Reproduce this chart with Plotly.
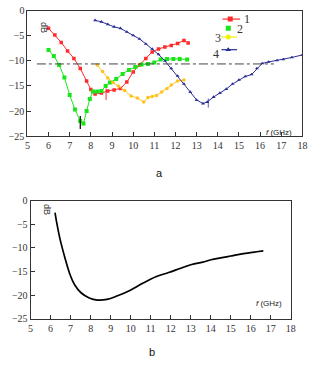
import plotly.graph_objects as go

W, H = 324, 381

# ---------------- data: panel a ----------------
s1_f = [6.0, 6.3, 6.6, 6.9, 7.2, 7.5, 7.8, 8.0, 8.2, 8.5, 8.8, 9.1, 9.4, 9.7, 10.0, 10.3, 10.6, 10.9, 11.2, 11.5, 11.8, 12.1, 12.4, 12.6]
s1_db = [-3.5, -4.8, -6.3, -8.0, -9.5, -11.5, -14.0, -15.7, -16.6, -16.4, -16.0, -15.8, -15.5, -14.2, -12.2, -10.8, -9.5, -8.2, -7.6, -7.2, -6.9, -6.5, -5.9, -6.4]

s2_f = [6.0, 6.25, 6.5, 6.75, 7.0, 7.25, 7.5, 7.65, 7.8, 7.95, 8.1, 8.3, 8.5, 8.7, 8.9, 9.2, 9.5, 9.8, 10.1, 10.4, 10.7, 11.0, 11.3, 11.6, 11.9, 12.2, 12.55]
s2_db = [-7.8, -9.0, -10.8, -13.3, -16.8, -19.7, -22.0, -22.5, -20.0, -17.6, -16.1, -16.1, -16.0, -15.0, -14.3, -13.6, -12.6, -11.8, -11.2, -10.7, -10.6, -10.3, -9.7, -9.6, -9.6, -9.6, -9.7]

s3_f = [8.3, 8.55, 8.8, 9.05, 9.3, 9.6, 9.9, 10.2, 10.5, 10.7, 10.9, 11.1, 11.35, 11.6, 11.8, 12.1, 12.4]
s3_db = [-10.8, -12.1, -13.4, -14.3, -15.0, -15.9, -17.0, -17.4, -18.2, -17.3, -17.1, -16.9, -16.2, -15.5, -14.8, -14.0, -13.8]

s4_f = [8.2, 8.5, 8.8, 9.1, 9.4, 9.7, 10.0, 10.3, 10.6, 10.9, 11.2, 11.5, 11.8, 12.1, 12.4, 12.7, 13.0, 13.3, 13.5, 13.8, 14.1, 14.4, 14.7, 15.0, 15.3, 15.6, 15.85, 16.1, 16.4, 16.8, 17.1, 17.5, 18.0]
s4_db = [-1.9, -2.2, -2.7, -3.2, -3.5, -4.2, -4.9, -5.6, -6.6, -7.6, -8.7, -10.0, -11.5, -13.0, -14.6, -16.2, -17.8, -18.5, -18.2, -17.2, -16.4, -15.6, -14.6, -13.8, -13.1, -12.7, -11.5, -10.5, -10.2, -9.9, -9.7, -9.3, -8.8]

series_names = ["1", "2", "3", "4"]
ref_level_db = -10.6
ref_f = [5.45, 16.65]

# ---------------- data: panel b ----------------
b_f = [6.22, 6.3, 6.46, 6.71, 6.95, 7.2, 7.52, 7.93, 8.34, 8.82, 9.31, 9.96, 10.6, 11.26, 11.9, 12.5, 13.05, 13.6, 14.02, 14.5, 15.0, 15.5, 15.98, 16.3, 16.63]
b_db = [-2.5, -4.5, -7.9, -12.0, -15.4, -17.8, -19.5, -20.6, -21.05, -20.9, -20.2, -19.0, -17.5, -16.1, -15.2, -14.3, -13.5, -13.0, -12.5, -12.1, -11.7, -11.3, -11.0, -10.8, -10.6]

x_ticks = list(range(5, 19))
y_ticks = [0, -5, -10, -15, -20, -25]

# ---------------- style ----------------
C_RED, C_GREEN, C_YEL, C_BLUE = "#ff2a2a", "#19e619", "#ffc21a", "#2b2f96"
serif = "Liberation Serif"
sans = "Liberation Sans"

# panel a plot area in pixels
AX0, AX1, AY0, AY1 = 25, 307, 6, 135


def px_x(p):
    return p / W


def px_y(p):
    return 1 - p / H


def a_x(p):  # pixel -> panel-a frequency coordinate
    return 5 + (p - AX0) * 13 / (AX1 - AX0)


def a_y(p):  # pixel -> panel-a dB coordinate
    return -(p - AY0) * 25 / (AY1 - AY0)


fig = go.Figure()

styles = [
    (s1_f, s1_db, C_RED, "square", 3.5),
    (s2_f, s2_db, C_GREEN, "square", 4),
    (s3_f, s3_db, C_YEL, "circle", 3.5),
    (s4_f, s4_db, C_BLUE, "triangle-up", 3.5),
]
for (f, d, c, sym, ms), nm in zip(styles, series_names):
    fig.add_trace(go.Scatter(x=f, y=d, mode="lines+markers", name=nm,
                             line=dict(color=c, width=1),
                             marker=dict(color=c, symbol=sym, size=ms),
                             xaxis="x", yaxis="y", showlegend=False, hoverinfo="skip"))

# reference (dash-dot) level
fig.add_trace(go.Scatter(x=ref_f, y=[ref_level_db, ref_level_db], mode="lines",
                         line=dict(color="#444444", width=1, dash="dashdot"),
                         xaxis="x", yaxis="y", showlegend=False, hoverinfo="skip"))

fig.add_trace(go.Scatter(x=b_f, y=b_db, mode="lines", line=dict(color="black", width=1.7, shape="spline"),
                         xaxis="x2", yaxis="y2", showlegend=False, hoverinfo="skip"))

# manual legend (pixel positions)
leg = [  # (x0,x1,y,marker_x, label_x,label_y, color, symbol, draw_line)
    (225, 243, 14.5, 233, 250, 14, C_RED, "square", True),
    (225, 237, 24, 231, 243, 25, C_GREEN, "square", False),
    (224, 240, 33, 231, 220, 34, "#f2f20a", "circle", True),
    (224, 240, 46, 231, 218, 50, C_BLUE, "triangle-up", True),
]
shapes = []
annotations = []
for x0, x1, yy, mx, lx, ly, c, sym, dl in leg:
    if dl:
        shapes.append(dict(type="line", xref="paper", yref="paper", x0=px_x(x0), x1=px_x(x1),
                           y0=px_y(yy), y1=px_y(yy), line=dict(color=c, width=1.2)))
    fig.add_trace(go.Scatter(x=[a_x(mx)], y=[a_y(yy)], mode="markers", xaxis="x", yaxis="y",
                             marker=dict(color=c, symbol=sym, size=5), showlegend=False, hoverinfo="skip"))
for (x0, x1, yy, mx, lx, ly, c, sym, dl), nm in zip(leg, series_names):
    annotations.append(dict(text=nm, xref="paper", yref="paper", x=px_x(lx), y=px_y(ly), showarrow=False,
                            font=dict(family=serif, size=12, color="#333"), xanchor="center", yanchor="middle"))

# small error-bar marks
shapes.append(dict(type="line", xref="x", yref="y", x0=7.5, x1=7.5, y0=-21.0, y1=-23.6, line=dict(color="black", width=1.2)))
shapes.append(dict(type="line", xref="x", yref="y", x0=8.72, x1=8.72, y0=-15.5, y1=-17.8, line=dict(color=C_RED, width=1)))
shapes.append(dict(type="line", xref="x", yref="y", x0=13.55, x1=13.55, y0=-17.5, y1=-19.3, line=dict(color=C_BLUE, width=0.8)))

# text labels
annotations += [
    dict(text="dB", xref="paper", yref="paper", x=px_x(35), y=px_y(15), textangle=90, showarrow=False,
         font=dict(family=sans, size=9, color="#333")),
    dict(text="dB", xref="paper", yref="paper", x=px_x(38), y=px_y(210), textangle=90, showarrow=False,
         font=dict(family=sans, size=9, color="#333")),
    dict(text="<i>f</i> (GHz)", xref="paper", yref="paper", x=px_x(298), y=px_y(125), xanchor="right", showarrow=False,
         font=dict(family=sans, size=8, color="#222")),
    dict(text="<i>f</i> (GHz)", xref="paper", yref="paper", x=px_x(288), y=px_y(314), xanchor="right", showarrow=False,
         font=dict(family=sans, size=8, color="#222")),
    dict(text="a", xref="paper", yref="paper", x=px_x(160), y=px_y(173), showarrow=False,
         font=dict(family=sans, size=11, color="#111")),
    dict(text="b", xref="paper", yref="paper", x=px_x(153), y=px_y(366), showarrow=False,
         font=dict(family=sans, size=11, color="#111")),
]

axis_common = dict(showgrid=False, zeroline=False, showline=True, linecolor="#333", linewidth=1, mirror=True,
                   ticks="inside", ticklen=4, tickcolor="#333",
                   tickfont=dict(family=serif, size=10, color="#333"))

fig.update_layout(
    width=W, height=H, margin=dict(l=0, r=0, t=0, b=0),
    paper_bgcolor="white", plot_bgcolor="white",
    xaxis=dict(domain=[px_x(AX0), px_x(AX1)], range=[5, 18], tickvals=x_ticks, anchor="y", **axis_common),
    yaxis=dict(domain=[px_y(AY1), px_y(AY0)], range=[-25, 0], tickvals=y_ticks, anchor="x", **axis_common),
    xaxis2=dict(domain=[px_x(28.3), px_x(295)], range=[5, 18], tickvals=x_ticks, anchor="y2", **axis_common),
    yaxis2=dict(domain=[px_y(323), px_y(201.7)], range=[-25, 0], tickvals=y_ticks, anchor="x2", **axis_common),
    shapes=shapes, annotations=annotations,
)

fig.write_html("out.html")
